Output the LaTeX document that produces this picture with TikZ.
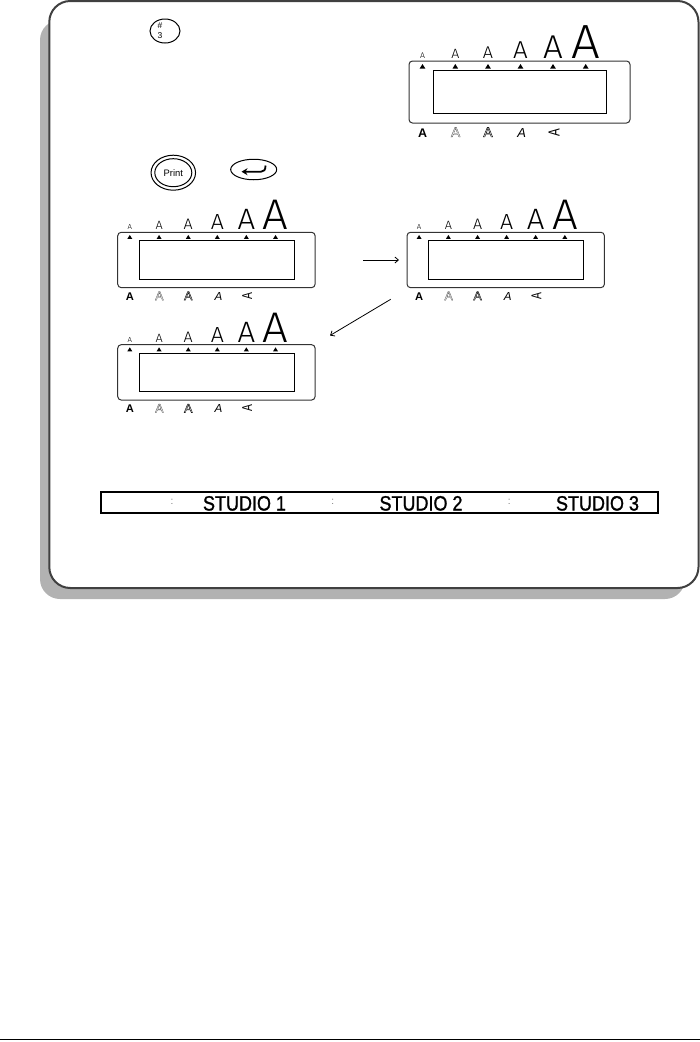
\documentclass[tikz,border=0pt]{standalone}
\usepackage{fontspec}
\usetikzlibrary{shapes.geometric,arrows.meta}
\setmainfont{Liberation Sans}
\newfontfamily\lightf{Fira Sans Light}
\newcommand{\fsz}[1]{\fontsize{#1}{#1}\selectfont}
\newcommand{\outl}[2]{\special{pdf:code q #1 w 1 Tr}#2\special{pdf:code Q}}
\newcommand{\heavy}[2]{\special{pdf:code q #1 w 2 Tr}#2\special{pdf:code Q}}
\tikzset{
  x=1pt,y=-1pt,
  lbl/.style={inner sep=0pt,outer sep=0pt,anchor=base,transform shape},
  lcdouter/.style={draw=black!80,line width=1pt,rounded corners=3.5pt},
  lcdinner/.style={draw=black,line width=0.9pt},
  marktri/.style={fill=black},
  keyline/.style={draw=black,line width=1pt},
  flow/.style={draw=black,line width=0.8pt,-{Straight Barb[length=3.5pt,width=6pt]}},
  studio/.style={inner sep=0pt,anchor=base},
  colonmark/.style={inner sep=0pt,text=black!50},
}
% #1 name prefix, #2 x, #3 y, #4 scale: local coords are those of the top right display
\newcommand{\lcd}[4]{%
\begin{scope}[shift={(#2,#3)},scale=#4]
  \draw[lcdouter] (409,61) rectangle (630,123);
  \draw[lcdinner] (433,70.3) rectangle (606.5,113.3);
  \foreach \xx/\ss [count=\ii] in {422.5/8.2,455.3/13.4,488/17,520.5/24.5,553/33,585.7/48}{
    \fill[marktri] (\xx-2.8,68.5) -- (\xx+2.8,68.5) -- (\xx,64) -- cycle;
    \node[lbl] (#1size\ii) at (\xx,58.3) {\fsz{\ss}\lightf\scalebox{1.06}[1]{A}};
  }
  \node[lbl] (#1bold) at (422.7,137) {\fsz{12.5}\bfseries A};
  \node[lbl,text=black!75] (#1outline) at (455.6,137) {\fsz{14}\outl{0.3}{A}};
  \node[lbl] (#1shadow) at (488,137) {\fsz{14}\outl{0.45}{A}};
  \node[lbl] (#1italic) at (521.7,137) {\fsz{13}\itshape A};
  \node[lbl,rotate=90,anchor=center] (#1vert) at (554,132.5) {\fsz{16}\scalebox{.72}[1]{A}};
\end{scope}}
\begin{document}
\begin{tikzpicture}
\useasboundingbox (0,0) rectangle (700,1042);
% panel
\fill[black!30,rounded corners=20pt] (40,20) rectangle (685,599);
\draw[fill=white,draw=black!75,line width=2pt,rounded corners=21pt] (49.3,1) rectangle (698.5,588);
% key #3
\node[keyline,ellipse,minimum width=30pt,minimum height=24pt,inner sep=0pt] (keythree) at (165,31) {};
\node[inner sep=0pt] (keyhash) at (160,26) {\fsz{8.5}\#};
\node[inner sep=0pt] (keynum) at (160,36) {\fsz{8.5}3};
% print key
\node[keyline,ellipse,minimum width=44.5pt,minimum height=35pt,inner sep=0pt] (printouter) at (173.3,172.7) {};
\node[keyline,ellipse,minimum width=37pt,minimum height=28pt,inner sep=0pt] (printinner) at (173.3,172.7) {\fsz{9.4}Print};
% enter key
\node[keyline,ellipse,minimum width=46pt,minimum height=20.5pt,inner sep=0pt] (enterkey) at (253.7,169.5) {};
\coordinate (enterA) at (265.5,165.5);
\coordinate (enterB) at (261,171.7);
\coordinate (enterC) at (241.5,171.7);
\draw[line width=1.8pt,-{Stealth[length=6pt,width=7pt]}] (enterA) .. controls (265.5,170) and (264,171.7) .. (enterB) -- (enterC);
% displays
\lcd{a}{0}{0}{1}
\lcd{b}{-247.5}{177.8}{0.893}
\lcd{c}{41.8}{177.8}{0.893}
\lcd{d}{-247.5}{290.2}{0.893}
% arrows
\coordinate (arrowAs) at (363.3,260);
\coordinate (arrowAe) at (399,260);
\coordinate (arrowBs) at (390.7,299.3);
\coordinate (arrowBe) at (330,335.5);
\draw[flow] (arrowAs) -- (arrowAe);
\draw[flow] (arrowBs) -- (arrowBe);
% strip
\draw[black,line width=2pt] (100.5,491.7) rectangle (658,513);
\node[colonmark] (colonA) at (172,502) {\fsz{10}:};
\node[colonmark] (colonB) at (332.7,502) {\fsz{10}:};
\node[colonmark] (colonC) at (509.3,502) {\fsz{10}:};
\node[studio] (studioA) at (244.5,510.5) {\fsz{18}\scalebox{1}[1.15]{\heavy{0.25}{STUDIO 1}}};
\node[studio] (studioB) at (421,510.5) {\fsz{18}\scalebox{1}[1.15]{\heavy{0.25}{STUDIO 2}}};
\node[studio] (studioC) at (597.5,510.5) {\fsz{18}\scalebox{1}[1.15]{\heavy{0.25}{STUDIO 3}}};
% page rule
\coordinate (ruleL) at (0,1039.5);
\coordinate (ruleR) at (700,1039.5);
\draw[black,line width=1.5pt] (ruleL) -- (ruleR);
\end{tikzpicture}
\end{document}
